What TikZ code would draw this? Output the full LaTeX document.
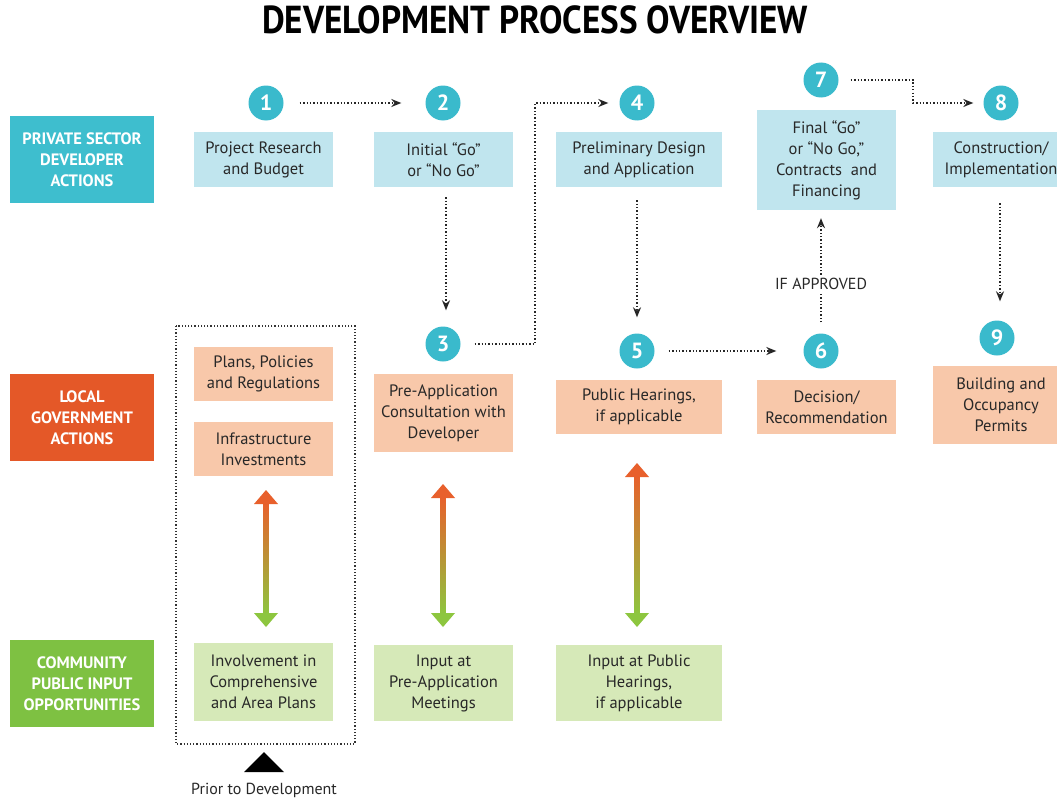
\documentclass[tikz,border=0pt]{standalone}
\usepackage{fontspec}
\setmainfont{PT Sans}
\usetikzlibrary{arrows.meta}
\definecolor{teal}{RGB}{62,190,206}
\definecolor{circ}{RGB}{58,186,204}
\definecolor{lblue}{RGB}{192,229,238}
\definecolor{lorange}{RGB}{228,88,40}
\definecolor{peach}{RGB}{248,200,170}
\definecolor{lgreen}{RGB}{126,193,66}
\definecolor{pgreen}{RGB}{214,233,184}
\definecolor{txt}{RGB}{40,40,40}
\definecolor{garrtop}{RGB}{232,96,44}
\definecolor{garrbot}{RGB}{141,198,63}
\tikzset{
  x=1pt, y=-1pt,
  boxtext/.style={align=center, text=txt, font=\fontsize{16.5}{21}\selectfont, inner sep=0pt},
  stepbox/.style={boxtext, rectangle, fill=lblue},
  govbox/.style={boxtext, rectangle, fill=peach},
  combox/.style={boxtext, rectangle, fill=pgreen},
  rowlabel/.style={rectangle, align=center, text=white, font=\fontsize{16.5}{21}\selectfont\bfseries, minimum width=144pt, minimum height=87pt, inner sep=0pt},
  numcirc/.style={circle, fill=circ, text=white, font=\fontsize{22}{22}\selectfont\bfseries, minimum size=35pt, inner sep=0pt},
  darr/.style={dotted, line width=1.4pt, draw=black!85, -{Stealth[length=10pt,width=8pt]}},
}
\newcommand{\gradarrow}[3]{%
  \shade[top color=garrtop, bottom color=garrbot] (#1-2.6,#2+12) rectangle (#1+2.6,#3-12);
  \fill[garrtop] (#1,#2) -- (#1-12,#2+14) -- (#1+12,#2+14) -- cycle;
  \fill[garrbot] (#1,#3) -- (#1-12,#3-14) -- (#1+12,#3-14) -- cycle;
}
\begin{document}
\begin{tikzpicture}
\useasboundingbox (0,0) rectangle (1057,800);
\clip (0,0) rectangle (1057,800);
\fill[white] (0,0) rectangle (1057,800);

% title
\node[font=\fontsize{39}{39}\selectfont\bfseries, text=black, xscale=0.9] (title) at (535,20) {DEVELOPMENT PROCESS OVERVIEW};

% row labels
\node[rowlabel, fill=teal] (rl1) at (82,159.5) {PRIVATE SECTOR\\DEVELOPER\\ACTIONS};
\node[rowlabel, fill=lorange] (rl2) at (82,417.5) {LOCAL\\GOVERNMENT\\ACTIONS};
\node[rowlabel, fill=lgreen] (rl3) at (82,683.5) {COMMUNITY\\PUBLIC INPUT\\OPPORTUNITIES};

% private sector boxes
\node[stepbox, minimum width=139pt, minimum height=55pt] (b1) at (263.5,159.5) {Project Research\\and Budget};
\node[stepbox, minimum width=139pt, minimum height=55pt] (b2) at (443.5,159.5) {Initial “Go”\\or “No Go”};
\node[stepbox, minimum width=166pt, minimum height=55pt] (b4) at (639,159.5) {Preliminary Design\\and Application};
\node[stepbox, minimum width=139pt, minimum height=100pt] (b7) at (826.5,160) {Final “Go”\\or “No Go,”\\Contracts\ \ and\\Financing};
\node[stepbox, minimum width=136pt, minimum height=55pt] (b8) at (1001,159.5) {Construction/\\Implementation};

% local government boxes
\node[govbox, minimum width=139pt, minimum height=54pt] (lp) at (263.5,374) {Plans, Policies\\and Regulations};
\node[govbox, minimum width=139pt, minimum height=54pt] (li) at (263.5,449) {Infrastructure\\Investments};
\node[govbox, minimum width=139pt, minimum height=78pt] (b3) at (443.5,413) {Pre-Application\\Consultation with\\Developer};
\node[govbox, minimum width=166pt, minimum height=54pt] (b5) at (639,407) {Public Hearings,\\if applicable};
\node[govbox, minimum width=139pt, minimum height=54pt] (b6) at (826.5,407) {Decision/\\Recommendation};
\node[govbox, minimum width=136pt, minimum height=78pt] (b9) at (1001,405) {Building and\\Occupancy\\Permits};

% community boxes
\node[combox, minimum width=139pt, minimum height=78pt] (g1) at (263.5,682) {Involvement in\\Comprehensive\\and Area Plans};
\node[combox, minimum width=139pt, minimum height=76pt] (g2) at (443.5,683) {Input at\\Pre-Application\\Meetings};
\node[combox, minimum width=166pt, minimum height=76pt] (g3) at (639,683) {Input at Public\\Hearings,\\if applicable};

% number circles
\node[numcirc] (c1) at (266,103) {1};
\node[numcirc] (c2) at (443,103) {2};
\node[numcirc] (c4) at (637,103) {4};
\node[numcirc] (c7) at (821,80) {7};
\node[numcirc] (c8) at (1001,103) {8};
\node[numcirc] (c3) at (443,344) {3};
\node[numcirc] (c5) at (637,351) {5};
\node[numcirc] (c6) at (821,351) {6};
\node[numcirc] (c9) at (997,338) {9};

% dotted process arrows
\coordinate (k34) at (535,344);
\coordinate (k78) at (913,80);
\draw[darr, shorten <=16pt, shorten >=24pt] (c1.east) -- (c2.west);
\draw[darr, shorten <=10pt, shorten >=16pt] (b2.south -| 446,0) -- (c3.north -| 446,0);
\draw[darr, shorten <=14pt, shorten >=11pt] (c3.east) -- (k34) |- (c4.west);
\draw[darr, shorten <=13pt, shorten >=16pt] (b4.south -| c4) -- (c5.north);
\draw[darr, shorten <=14pt, shorten >=27pt] (c5.east) -- (c6.west);
\draw[darr, shorten <=11pt, shorten >=8pt] (c6.north) -- (b7.south -| c6);
\draw[darr, shorten <=12pt, shorten >=10pt] (c7.east) -- (k78) |- (c8.west);
\draw[darr, shorten <=16pt, shorten >=19pt] (b8.south -| 1000,0) -- (c9.north -| 1000,0);
\node[fill=white, text=txt, font=\fontsize{16}{16}\selectfont, inner sep=2pt] (ifa) at (821,284) {IF APPROVED};

% gradient double arrows
\gradarrow{266}{490}{627}
\gradarrow{443}{484}{627}
\gradarrow{637}{463}{627}

% prior to development frame
\draw[dotted, line width=1.2pt, draw=black!80] (176,326) rectangle (355,744);
\fill[black] (264,752) -- (244,772) -- (284,772) -- cycle;
\node[text=txt, font=\fontsize{16}{16}\selectfont] (prior) at (264,790) {Prior to Development};
\end{tikzpicture}
\end{document}
